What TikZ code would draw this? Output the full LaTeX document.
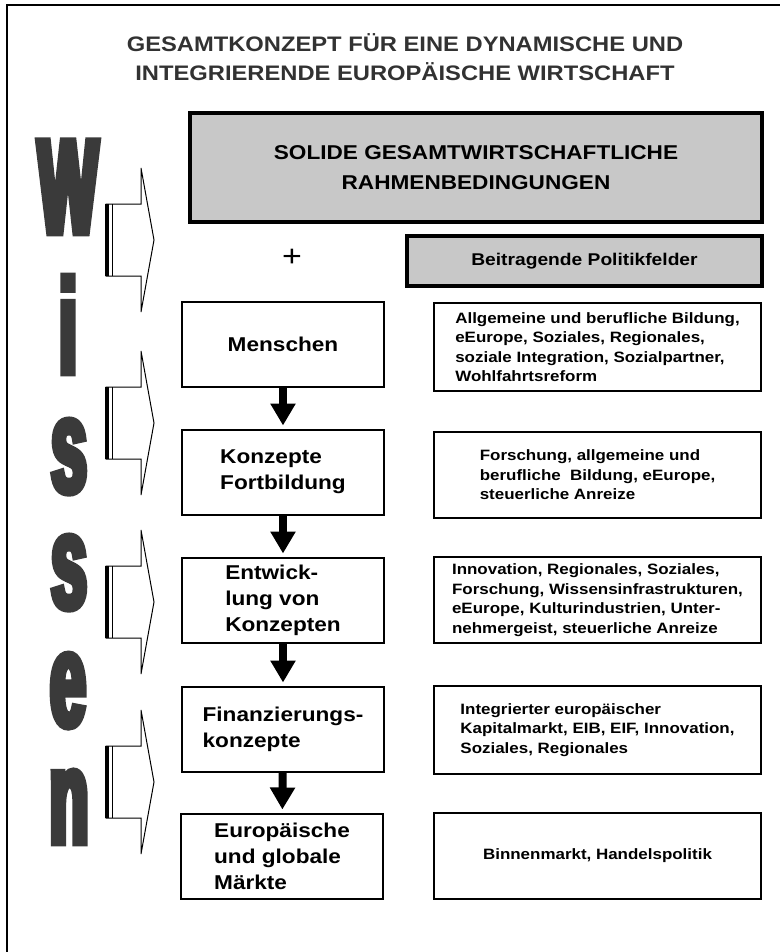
\documentclass[tikz,border=0pt]{standalone}
\usepackage{fontspec}
\setmainfont[FakeStretch=1.13]{Liberation Sans}
\newfontfamily\wissenfont[FakeStretch=0.47,FakeBold=5]{Liberation Sans}
\usetikzlibrary{arrows.meta}
\definecolor{boxgray}{RGB}{200,200,200}
\definecolor{lettergray}{RGB}{58,58,58}
\definecolor{titlegray}{RGB}{50,50,50}

\begin{document}
\begin{tikzpicture}
[x=1pt,y=-1pt,
 stage/.style={draw,line width=2pt,minimum width=202pt,minimum height=85pt,align=left,inner sep=0pt,font=\fontsize{20}{26}\selectfont\bfseries},
 policy/.style={draw,line width=2pt,minimum width=327pt,align=left,inner sep=0pt,font=\fontsize{15}{19.5}\selectfont\bfseries},
 greybox/.style={draw,fill=boxgray,line width=3.5pt,align=center,inner sep=0pt},
 letter/.style={anchor=base,inner sep=0pt,text depth=0pt,text height=#1,text=lettergray,font=\wissenfont\bfseries\fontsize{134}{134}\selectfont},
 letter/.default=70pt,
 flow/.style={line width=8pt,-{Triangle[width=24pt 0 1,length=22pt 0 1]},shorten >=3pt}]
\useasboundingbox (0,0) rectangle (780,952);
\draw[line width=2.5pt] (7,952) -- (7,5) -- (780,5);

\node[align=center,text=titlegray,font=\fontsize{21}{29}\selectfont\bfseries] (t1) at (405,57) {GESAMTKONZEPT FÜR EINE DYNAMISCHE UND\\INTEGRIERENDE EUROPÄISCHE WIRTSCHAFT};

\node[greybox,minimum width=572pt,minimum height=109pt,font=\fontsize{20}{30}\selectfont\bfseries] (g1) at (476,167.5) {SOLIDE GESAMTWIRTSCHAFTLICHE\\RAHMENBEDINGUNGEN};
\node[font=\fontsize{30}{30}\selectfont] (plus) at (292,258) {+};
\node[greybox,minimum width=355pt,minimum height=50pt,font=\fontsize{17}{20}\selectfont\bfseries] (g2) at (584.5,261) {Beitragende Politikfelder};

\node[stage] (b1) at (283,344) {Menschen};
\node[stage] (b2) at (283,472) {Konzepte\\Fortbildung};
\node[stage] (b3) at (283,600) {Entwick-\\lung von\\Konzepten};
\node[stage] (b4) at (283,729) {Finanzierungs-\\konzepte};
\node[stage] (b5) at (282,856) {Europäische\\und globale\\Märkte};

\node[policy,minimum height=88pt] (p1) at (597.5,347) {Allgemeine und berufliche Bildung,\\eEurope, Soziales, Regionales,\\soziale Integration, Sozialpartner,\\Wohlfahrtsreform};
\node[policy,minimum height=86pt] (p2) at (597.5,475) {Forschung, allgemeine und\\berufliche\ \ Bildung, eEurope,\\steuerliche Anreize};
\node[policy,minimum height=86pt] (p3) at (597.5,600) {Innovation, Regionales, Soziales,\\Forschung, Wissensinfrastrukturen,\\eEurope, Kulturindustrien, Unter-\\nehmergeist, steuerliche Anreize};
\node[policy,minimum height=88pt] (p4) at (597.5,730) {Integrierter europäischer\\Kapitalmarkt, EIB, EIF, Innovation,\\Soziales, Regionales};
\node[policy,minimum height=86pt] (p5) at (597.5,856) {Binnenmarkt, Handelspolitik};

% Wissen
\node[letter=92pt] (w1) at (68,233) {W};
\node[letter=92pt] (w2) at (68,373) {i};
\node[letter] (w3) at (69,492) {s};
\node[letter] (w4) at (69,608) {s};
\node[letter] (w5) at (68,726) {e};
\node[letter] (w6) at (69,843) {n};

\foreach \y in {240,423,602,782}
{
\draw[line width=1pt,fill=white] (106,\y-36) -- (141,\y-36) -- (141,\y-72) -- (154,\y) -- (141,\y+72) -- (141,\y+36) -- (106,\y+36) -- cycle;
\draw[line width=4pt] (107,\y-36) -- (107,\y+36);
\draw[line width=1.5pt] (112.5,\y-36) -- (112.5,\y+36);
}

\foreach \from/\to in {b1/b2,b2/b3,b3/b4,b4/b5}
\draw[flow] (\from) -- (\to);
\end{tikzpicture}
\end{document}
